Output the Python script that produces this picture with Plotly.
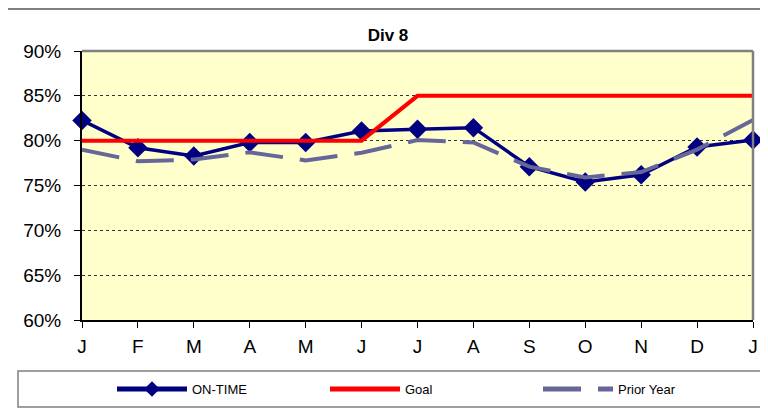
import plotly.graph_objects as go

months = ["J", "F", "M", "A", "M", "J", "J", "A", "S", "O", "N", "D", "J"]
on_time = [0.8226, 0.792, 0.783, 0.798, 0.798, 0.8107, 0.8126, 0.8145, 0.771, 0.754, 0.762, 0.793, 0.8007]
goal = [0.80, 0.80, 0.80, 0.80, 0.80, 0.80, 0.85, 0.85, 0.85, 0.85, 0.85, 0.85, 0.85]
prior_year = [0.790, 0.777, 0.779, 0.787, 0.778, 0.7865, 0.8007, 0.798, 0.771, 0.759, 0.765, 0.790, 0.823]

x = list(range(len(months)))
FONT = "Arial, Liberation Sans, sans-serif"

fig = go.Figure()
fig.add_trace(go.Scatter(
    x=x, y=on_time, name="ON-TIME", mode="lines+markers",
    line=dict(color="#000080", width=3.5),
    marker=dict(symbol="diamond", size=15, color="#000080"),
    cliponaxis=False,
))
fig.add_trace(go.Scatter(
    x=x, y=goal, name="Goal", mode="lines",
    line=dict(color="#FF0000", width=4),
))
fig.add_trace(go.Scatter(
    x=x, y=prior_year, name="Prior Year", mode="lines",
    line=dict(color="#666699", width=4, dash="38px,17px"),
))

# page body has an 8px margin, so the figure is drawn offset by (8, 8)
OFF = 8
W, H = 768 - OFF, 409 - OFF
L, R, T, B = 82 - OFF, 15, 51 - OFF, 89
pw, ph = W - L - R, H - T - B

def px_x(p):
    return (p - OFF - L) / pw

def px_y(p):
    return 1 - (p - OFF - T) / ph

shapes = [
    # outer chart border (top visible part)
    dict(type="line", xref="paper", yref="paper",
         x0=px_x(3.5), x1=px_x(775), y0=px_y(9), y1=px_y(9),
         line=dict(color="#808080", width=2)),
    # legend box
    dict(type="rect", xref="paper", yref="paper",
         x0=px_x(18), x1=px_x(763), y0=px_y(407), y1=px_y(371),
         line=dict(color="#808080", width=1.5), fillcolor="white", layer="below"),
    # plot area top/right border (gray)
    dict(type="line", xref="paper", yref="paper", x0=0, x1=1, y0=1, y1=1,
         line=dict(color="#808080", width=2.5)),
    dict(type="line", xref="paper", yref="paper", x0=1, x1=1, y0=0, y1=1,
         line=dict(color="#808080", width=2.5)),
]

fig.update_layout(
    width=W, height=H,
    margin=dict(l=L, r=R, t=T, b=B, pad=0, autoexpand=False),
    paper_bgcolor="white",
    plot_bgcolor="#FFFFCC",
    font=dict(family=FONT, color="black"),
    title=dict(text="<b>Div 8</b>", x=(388 - OFF) / W, xref="container", xanchor="center",
               y=1 - (35 - OFF) / H, yref="container", yanchor="middle",
               font=dict(family=FONT, size=17, color="black")),
    showlegend=True,
    legend=dict(orientation="h", x=px_x(112), xanchor="left",
                y=px_y(389), yanchor="middle",
                font=dict(family=FONT, size=13, color="black"),
                bgcolor="rgba(0,0,0,0)", entrywidth=128, entrywidthmode="pixels",
                itemwidth=70, itemsizing="constant"),
    shapes=shapes,
)

fig.update_xaxes(
    range=[0, len(months) - 1],
    tickmode="array", tickvals=x, ticktext=months,
    showgrid=False, zeroline=False,
    showline=True, linecolor="black", linewidth=2,
    ticks="outside", ticklen=6, tickcolor="black", tickwidth=1,
    ticklabelstandoff=2,
    tickfont=dict(family=FONT, size=19, color="black"),
    fixedrange=True,
)
fig.update_yaxes(
    range=[0.60, 0.90], dtick=0.05, tick0=0.60, tickformat=".0%",
    showgrid=True, gridcolor="#333333", gridwidth=1, griddash="dot",
    zeroline=False,
    showline=True, linecolor="black", linewidth=2,
    ticks="outside", ticklen=6, tickcolor="black", tickwidth=1,
    ticklabelstandoff=9,
    tickfont=dict(family=FONT, size=19, color="black"),
    fixedrange=True,
)

fig.write_html("out.html")
